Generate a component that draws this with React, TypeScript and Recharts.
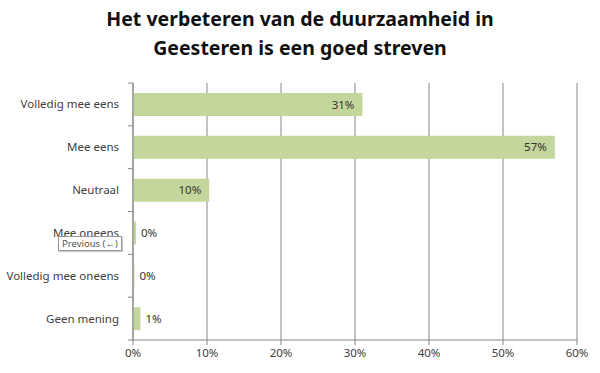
import { BarChart, Bar, XAxis, YAxis, CartesianGrid, LabelList } from 'recharts'

const categories = [
  'Volledig mee eens',
  'Mee eens',
  'Neutraal',
  'Mee oneens',
  'Volledig mee oneens',
  'Geen mening',
]
const percentages = [31, 57, 10.3, 0.4, 0.2, 1]
const xTicks = [0, 10, 20, 30, 40, 50, 60]

const titleLines = ['Het verbeteren van de duurzaamheid in', 'Geesteren is een goed streven']

const data = categories.map((name, i) => ({ name, value: percentages[i] }))

const FONT = '"Noto Sans", "Open Sans", sans-serif'
const AXIS = '#868686'
const Y_AXIS_WIDTH = 133
const PLOT_HEIGHT = 257

function CategoryTick(props: any) {
  const { y, payload, index } = props
  const band = PLOT_HEIGHT / categories.length
  const last = index === categories.length - 1
  return (
    <g>
      <line x1={Y_AXIS_WIDTH - 5} x2={Y_AXIS_WIDTH} y1={y - band / 2} y2={y - band / 2} stroke={AXIS} />
      {last && <line x1={Y_AXIS_WIDTH - 5} x2={Y_AXIS_WIDTH} y1={y + band / 2} y2={y + band / 2} stroke={AXIS} />}
      <text x={Y_AXIS_WIDTH - 14} y={y} dy={4} textAnchor="end" fontSize={11.5} fill="#404040" fontFamily={FONT}>
        {payload.value}
      </text>
    </g>
  )
}

function ValueLabel(props: any) {
  const { x, y, width, height, value } = props
  const small = width < 20
  return (
    <text
      x={small ? x + width + 5 : x + width - 8}
      y={y + height / 2}
      dy={4}
      textAnchor={small ? 'start' : 'end'}
      fontSize={11.5}
      fill="#333"
      fontFamily={FONT}
    >
      {Math.round(value)}%
    </text>
  )
}

export default function App() {
  return (
    <div style={{ position: 'absolute', left: 0, top: 0, width: 600, height: 373, background: '#fff', fontFamily: FONT }}>
      <div
        style={{
          position: 'absolute',
          top: 4,
          left: 0,
          width: 600,
          textAlign: 'center',
          fontWeight: 700,
          fontSize: 19.5,
          lineHeight: '29px',
          color: '#111',
        }}
      >
        {titleLines.map((t) => (
          <div key={t}>{t}</div>
        ))}
      </div>
      <BarChart
        width={600}
        height={373}
        data={data}
        layout="vertical"
        margin={{ top: 83, right: 23, bottom: 3, left: 0 }}
        barCategoryGap={10}
      >
        <CartesianGrid horizontal={false} stroke={AXIS} />
        <XAxis
          type="number"
          domain={[0, 60]}
          ticks={xTicks}
          height={30}
          tickFormatter={(v) => `${v}%`}
          axisLine={{ stroke: AXIS }}
          tickLine={{ stroke: AXIS }}
          tickSize={5}
          tickMargin={4}
          tick={{ fontSize: 11.5, fill: '#404040', fontFamily: FONT }}
          interval={0}
        />
        <YAxis
          type="category"
          dataKey="name"
          width={Y_AXIS_WIDTH}
          axisLine={{ stroke: AXIS }}
          tickLine={false}
          tick={<CategoryTick />}
          interval={0}
        />
        <Bar dataKey="value" fill="#c3d69b" isAnimationActive={false}>
          <LabelList dataKey="value" content={<ValueLabel />} />
        </Bar>
      </BarChart>
      <div
        style={{
          position: 'absolute',
          left: 58,
          top: 236,
          padding: '0 3px',
          border: '1px solid #999',
          background: '#fff',
          fontSize: 9.5,
          lineHeight: '13px',
          color: '#555',
          boxShadow: '1px 1px 1px #ccc',
        }}
      >
        Previous (←)
      </div>
    </div>
  )
}
